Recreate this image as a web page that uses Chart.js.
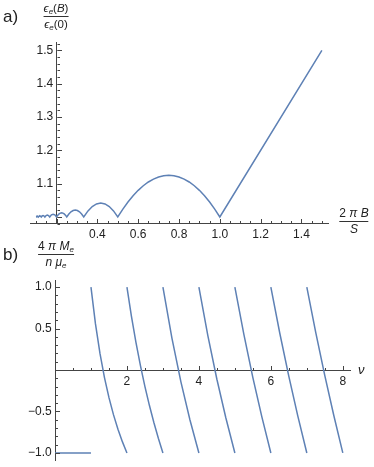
<!DOCTYPE html>
<html>
<head>
<meta charset="utf-8">
<script src="https://cdn.jsdelivr.net/npm/chart.js@4/dist/chart.umd.min.js"></script>
<style>
  body { margin: 0; width: 374px; height: 467px; overflow: hidden; background: #fff; position: relative; }
  canvas { position: absolute; left: 0; }
  .lbl { position: absolute; font-family: 'Liberation Sans', Arial, sans-serif; color: #222; white-space: nowrap; }
  .frac { position: absolute; transform: translateX(-50%); font: 12px 'Liberation Sans', Arial, sans-serif; color: #222; text-align: center; line-height: 12px; white-space: nowrap; }
  .frac .bar { border-top: 1px solid #333; margin: 2px 0 1px 0; }
  .frac sub { font-size: 8px; line-height: 0; vertical-align: -2px; }
</style>
</head>
<body>
<canvas id="chartA" width="374" height="240" style="top:0"></canvas>
<canvas id="chartB" width="374" height="231" style="top:240px"></canvas>

<div class="lbl" style="left:3px;top:7px;font-size:17px">a)</div>
<div class="frac" style="left:56px;top:2px;font-size:11.5px">
  <div><i>ϵ</i><sub><i>e</i></sub>(<i>B</i>)</div>
  <div class="bar"></div>
  <div><i>ϵ</i><sub><i>e</i></sub>(0)</div>
</div>
<div class="frac" style="left:354px;top:207px">
  <div>2 <i>π</i> <i>B</i></div>
  <div class="bar"></div>
  <div><i>S</i></div>
</div>

<div class="lbl" style="left:3px;top:245px;font-size:17px">b)</div>
<div class="frac" style="left:56px;top:240px">
  <div>4 <i>π</i> <i>M</i><sub><i>e</i></sub></div>
  <div class="bar"></div>
  <div><i>n</i> <i>μ</i><sub><i>e</i></sub></div>
</div>
<div class="lbl" style="left:358px;top:362px;font-size:13px"><i>ν</i></div>

<script>
// panel a: energy ratio vs 2*pi*B/S
const fieldX = [
  0.1, 0.1028, 0.1056, 0.1083, 0.1111,
  0.1146, 0.1181, 0.1215, 0.125,
  0.1295, 0.1339, 0.1384, 0.1429,
  0.1488, 0.1548, 0.1607, 0.1667,
  0.175, 0.1833, 0.1917, 0.2,
  0.2063, 0.2125, 0.2188, 0.225, 0.2313, 0.2375, 0.2438, 0.25,
  0.2604, 0.2708, 0.2813, 0.2917, 0.3021, 0.3125, 0.3229, 0.3333,
  0.3542, 0.375, 0.3958, 0.4167, 0.4375, 0.4583, 0.4792, 0.5,
  0.525, 0.55, 0.575, 0.6, 0.625, 0.65, 0.675, 0.7, 0.725, 0.75,
  0.775, 0.8, 0.825, 0.85, 0.875, 0.9, 0.925, 0.95, 0.975, 1.0,
  1.5
];
const energyRatio = [
  1.0, 1.0021, 1.0028, 1.0021, 1.0,
  1.0026, 1.0035, 1.0026, 1.0,
  1.0033, 1.0045, 1.0033, 1.0,
  1.0045, 1.006, 1.0045, 1.0,
  1.0063, 1.0083, 1.0063, 1.0,
  1.0055, 1.0094, 1.0117, 1.0125, 1.0117, 1.0094, 1.0055, 1.0,
  1.0091, 1.0156, 1.0195, 1.0208, 1.0195, 1.0156, 1.0091, 1.0,
  1.0182, 1.0313, 1.0391, 1.0417, 1.0391, 1.0313, 1.0182, 1.0,
  1.0238, 1.045, 1.0638, 1.08, 1.0938, 1.105, 1.1138, 1.12, 1.1238, 1.125,
  1.1238, 1.12, 1.1138, 1.105, 1.0938, 1.08, 1.0638, 1.045, 1.0238, 1.0,
  1.5
];
const aTicksX = [0.4, 0.6, 0.8, 1.0, 1.2, 1.4];
const aTicksY = [1.1, 1.2, 1.3, 1.4, 1.5];

// panel b: magnetization vs filling factor (null = break between branches)
const fillingNu = [
  0, 1, null,
  1, 1.125, 1.25, 1.375, 1.5, 1.625, 1.75, 1.875, 2, null,
  2, 2.125, 2.25, 2.375, 2.5, 2.625, 2.75, 2.875, 3, null,
  3, 3.25, 3.5, 3.75, 4, null,
  4, 4.25, 4.5, 4.75, 5, null,
  5, 5.25, 5.5, 5.75, 6, null,
  6, 6.25, 6.5, 6.75, 7, null,
  7, 7.25, 7.5, 7.75, 8
];
const magnetM = [
  -1, -1, null,
  1, 0.5556, 0.2, -0.0909, -0.3333, -0.5385, -0.7143, -0.8667, -1, null,
  1, 0.6471, 0.3333, 0.0526, -0.2, -0.4286, -0.6364, -0.8261, -1, null,
  1, 0.3846, -0.1429, -0.6, -1, null,
  1, 0.4118, -0.1111, -0.5789, -1, null,
  1, 0.4286, -0.0909, -0.5652, -1, null,
  1, 0.44, -0.0769, -0.5556, -1, null,
  1, 0.4483, -0.0667, -0.5484, -1
];
const bTicksX = [2, 4, 6, 8];
const bTicksY = [-1.0, -0.5, 0.5, 1.0];

const lineColor = '#5e81b5';
const axisColor = '#444';
const labelFont = { family: "'Liberation Sans', Arial, sans-serif", size: 12 };

function toPoints(xs, ys) {
  return xs.map((x, i) => ({ x: x, y: ys[i] }));
}

function range(from, to, step) {
  const out = [];
  const n = Math.round((to - from) / step);
  for (let i = 0; i <= n; i++) out.push(from + i * step);
  return out;
}

// proper minus sign like the original
function fmt(v, digits) {
  const s = Math.abs(v).toFixed(digits);
  return v < 0 ? '\u2212' + s : s;
}

// Mathematica style tick marks (major + minor), pointing into the plot
const tickMarks = {
  id: 'tickMarks',
  afterDraw(chart, args, o) {
    const ctx = chart.ctx;
    const xs = chart.scales.x, ys = chart.scales.y;
    const yAxisPx = Math.round(xs.getPixelForValue(o.yAxisAt)) + 0.5;
    const xAxisPx = Math.round(ys.getPixelForValue(o.xAxisAt)) + 0.5;
    ctx.save();
    ctx.strokeStyle = axisColor;
    ctx.lineWidth = 1;
    ctx.beginPath();
    o.xMinor.forEach(v => {
      const p = Math.round(xs.getPixelForValue(v)) + 0.5;
      ctx.moveTo(p, xAxisPx); ctx.lineTo(p, xAxisPx - 2.5);
    });
    o.xMajor.forEach(v => {
      const p = Math.round(xs.getPixelForValue(v)) + 0.5;
      ctx.moveTo(p, xAxisPx); ctx.lineTo(p, xAxisPx - 4.5);
    });
    o.yMinor.forEach(v => {
      const p = Math.round(ys.getPixelForValue(v)) + 0.5;
      ctx.moveTo(yAxisPx, p); ctx.lineTo(yAxisPx + 2.5, p);
    });
    o.yMajor.forEach(v => {
      const p = Math.round(ys.getPixelForValue(v)) + 0.5;
      ctx.moveTo(yAxisPx, p); ctx.lineTo(yAxisPx + 4.5, p);
    });
    ctx.stroke();
    ctx.restore();
  }
};

function axis(min, max, at, ticks, pad, label) {
  return {
    type: 'linear',
    min: min,
    max: max,
    position: at,
    afterBuildTicks: s => { s.ticks = ticks.map(v => ({ value: v })); },
    grid: { display: true, drawOnChartArea: false, drawTicks: false },
    border: { display: true, color: axisColor, width: 1 },
    ticks: {
      font: labelFont,
      color: '#222',
      padding: pad,
      callback: label
    }
  };
}

new Chart(document.getElementById('chartA'), {
  type: 'scatter',
  data: {
    datasets: [{
      data: toPoints(fieldX, energyRatio),
      showLine: true,
      borderColor: lineColor,
      borderWidth: 1.5,
      pointRadius: 0
    }]
  },
  options: {
    responsive: false,
    animation: false,
    layout: { padding: { left: 30, right: 46, top: 42, bottom: 17 } },
    plugins: {
      legend: { display: false },
      tooltip: { enabled: false },
      tickMarks: {
        yAxisAt: 0.2, xAxisAt: 0.982,
        xMajor: range(0.2, 1.4, 0.2), xMinor: range(0.1, 1.5, 0.05),
        yMajor: range(1.0, 1.5, 0.1), yMinor: range(0.98, 1.52, 0.02)
      }
    },
    scales: {
      x: axis(0.07, 1.53, { y: 0.982 }, aTicksX, 4, v => fmt(v, 1)),
      y: axis(0.982, 1.525, { x: 0.2 }, aTicksY, 3, v => fmt(v, 1) + ' ')
    }
  },
  plugins: [tickMarks]
});

new Chart(document.getElementById('chartB'), {
  type: 'scatter',
  data: {
    datasets: [{
      data: toPoints(fillingNu, magnetM),
      showLine: true,
      spanGaps: false,
      borderColor: lineColor,
      borderWidth: 1.5,
      pointRadius: 0
    }]
  },
  options: {
    responsive: false,
    animation: false,
    layout: { padding: { left: 55, right: 24, top: 40, bottom: 11 } },
    plugins: {
      legend: { display: false },
      tooltip: { enabled: false },
      tickMarks: {
        yAxisAt: 0, xAxisAt: 0,
        xMajor: range(2, 8, 2), xMinor: range(0.5, 8, 0.5),
        yMajor: range(-1, 1, 0.5), yMinor: range(-1.0, 1.0, 0.1)
      }
    },
    scales: {
      x: axis(0, 8.2, { y: 0 }, bTicksX, 4, v => fmt(v, 0)),
      y: axis(-1.085, 1.085, { x: 0 }, bTicksY, 3, v => fmt(v, 1) + ' ')
    }
  },
  plugins: [tickMarks]
});
</script>
</body>
</html>
